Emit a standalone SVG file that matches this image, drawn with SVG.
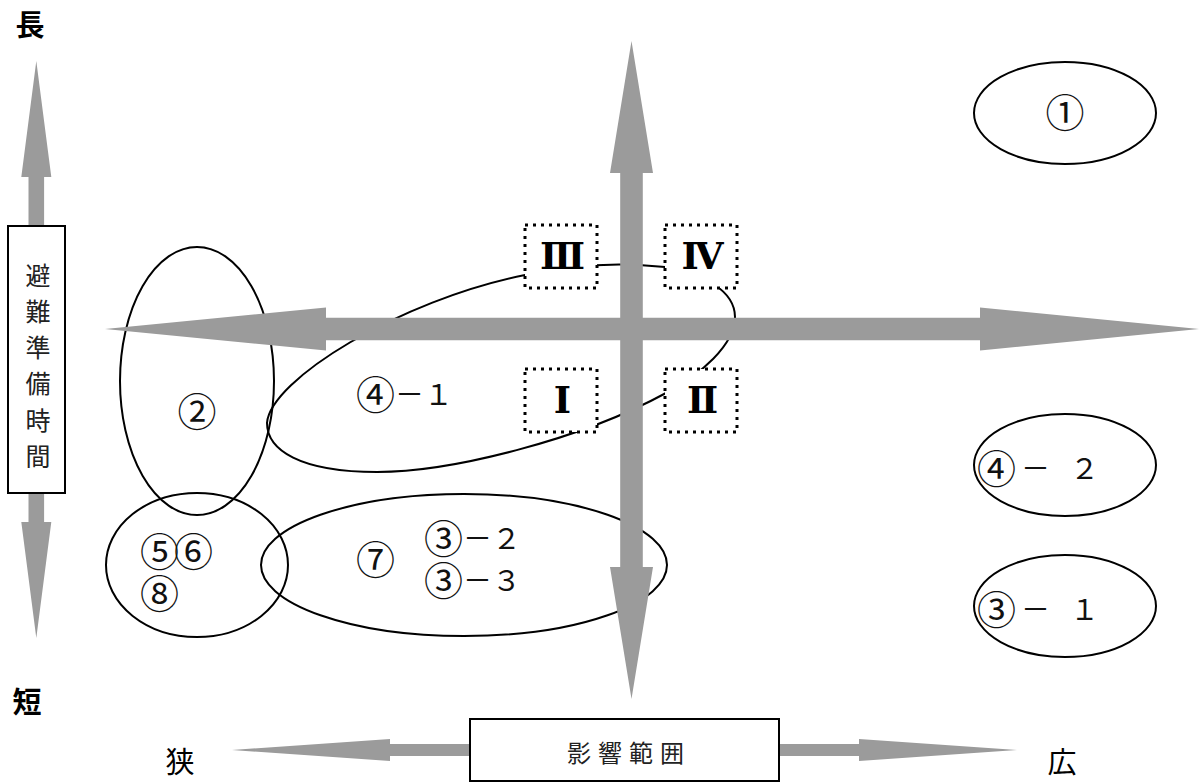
<svg xmlns="http://www.w3.org/2000/svg" width="1200" height="782" viewBox="0 0 1200 782">
<style>
.bg{fill:#ffffff}
.arr{fill:#9b9b9b;stroke:none}
.ell{fill:none;stroke:#000;stroke-width:2}
.box{fill:#fff;stroke:#000;stroke-width:2}
.dot{fill:#fff;stroke:#000;stroke-width:3;stroke-dasharray:3 5}
.num{font-family:"Noto Sans CJK JP","DejaVu Sans",sans-serif;font-size:29px;fill:#111;dominant-baseline:central}
.c{font-size:39px}
.lab{font-family:"Noto Sans CJK JP",sans-serif;font-size:25px;fill:#222;dominant-baseline:central;text-anchor:middle}
.big{font-family:"Noto Sans CJK JP",sans-serif;font-size:29px;fill:#000;dominant-baseline:central;text-anchor:middle}
.rom{font-family:"DejaVu Serif","Liberation Serif","Noto Sans CJK JP",serif;font-size:37px;font-weight:bold;fill:#000;dominant-baseline:central;text-anchor:middle}
</style>
<rect class="bg" x="0" y="0" width="1200" height="782"/>

<g id="groups">
  <g id="g1"><ellipse class="ell" cx="1065" cy="113" rx="91" ry="51"/><text class="num c" x="1065" y="110" text-anchor="middle">①</text></g>
  <g id="g42"><ellipse class="ell" cx="1065" cy="465" rx="91" ry="51"/><text class="num" x="977" y="466"><tspan class="c">④</tspan><tspan dx="5">－</tspan><tspan dx="20">２</tspan></text></g>
  <g id="g31"><ellipse class="ell" cx="1065" cy="606" rx="91" ry="51"/><text class="num" x="977" y="607"><tspan class="c">③</tspan><tspan dx="5">－</tspan><tspan dx="20">１</tspan></text></g>
  <g id="g2"><ellipse class="ell" cx="197" cy="381" rx="77" ry="134"/><text class="num c" x="197" y="409" text-anchor="middle">②</text></g>
  <g id="g568"><ellipse class="ell" cx="197" cy="565" rx="91" ry="72"/><text class="num c"><tspan x="140" y="549" letter-spacing="-5">⑤⑥</tspan><tspan x="140" y="591">⑧</tspan></text></g>
  <g id="g7"><ellipse class="ell" cx="464" cy="565" rx="203" ry="71"/><text class="num c" x="356" y="557">⑦</text><text class="num"><tspan x="424" y="536" class="c">③</tspan><tspan>－２</tspan><tspan x="424" y="578" class="c">③</tspan><tspan>－３</tspan></text></g>
  <g id="g41"><path class="ell" d="M267,423 C270,380 400,300 525,275 C570,265 620,262 665,267 C700,272 735,290 735,317 C735,345 700,375 666,393 C580,440 450,472 377,472 C300,472 267,450 267,423 Z"/><text class="num" x="356" y="392"><tspan class="c">④</tspan>－１</text></g>
</g>

<g id="connectors">
  <polygon class="arr" points="631.5,41 653,173 642.8,173 642.8,567 653,567 631.5,699 610,567 620.2,567 620.2,173 610,173"/>
  <polygon class="arr" points="105,329 326,307.5 326,317.8 980,317.8 980,307.5 1199,329 980,350.5 980,340.2 326,340.2 326,350.5"/>
  <polygon class="arr" points="36.3,61 51.3,177 44.1,177 44.1,226 28.5,226 28.5,177 21.3,177"/>
  <polygon class="arr" points="28.5,493 44.1,493 44.1,522 51.3,522 36.3,638 21.3,522 28.5,522"/>
  <polygon class="arr" points="232,750 390,739 390,744 470,744 470,756 390,756 390,761"/>
  <polygon class="arr" points="779,744 859,744 859,739 1017,750 859,761 859,756 779,756"/>
</g>

<g id="quadrants">
  <g id="q3"><rect class="dot" x="525" y="225" width="72" height="63"/><text class="rom" x="562.5" y="256">Ⅲ</text></g>
  <g id="q4"><rect class="dot" x="665" y="225" width="72" height="63"/><text class="rom" x="702.5" y="256">Ⅳ</text></g>
  <g id="q1"><rect class="dot" x="525" y="369" width="72" height="63"/><text class="rom" x="562.5" y="400">Ⅰ</text></g>
  <g id="q2"><rect class="dot" x="665" y="369" width="72" height="63"/><text class="rom" x="702.5" y="400">Ⅱ</text></g>
</g>

<g id="axis-time">
  <rect class="box" x="8" y="226" width="57" height="267"/>
  <text class="lab" x="38" y="273.5">避</text>
  <text class="lab" x="38" y="309.8">難</text>
  <text class="lab" x="38" y="346">準</text>
  <text class="lab" x="38" y="382.4">備</text>
  <text class="lab" x="38" y="418.7">時</text>
  <text class="lab" x="38" y="455">間</text>
</g>
<g id="axis-range">
  <rect class="box" x="470" y="719" width="309" height="62"/>
  <text class="lab" x="629" y="751" style="font-size:24px;letter-spacing:7px">影響範囲</text>
</g>
<g id="labels">
  <text class="big" x="30" y="23" font-weight="bold">長</text>
  <text class="big" x="27" y="700" font-weight="bold">短</text>
  <text class="big" x="180" y="760">狭</text>
  <text class="big" x="1062" y="760">広</text>
</g>
</svg>
